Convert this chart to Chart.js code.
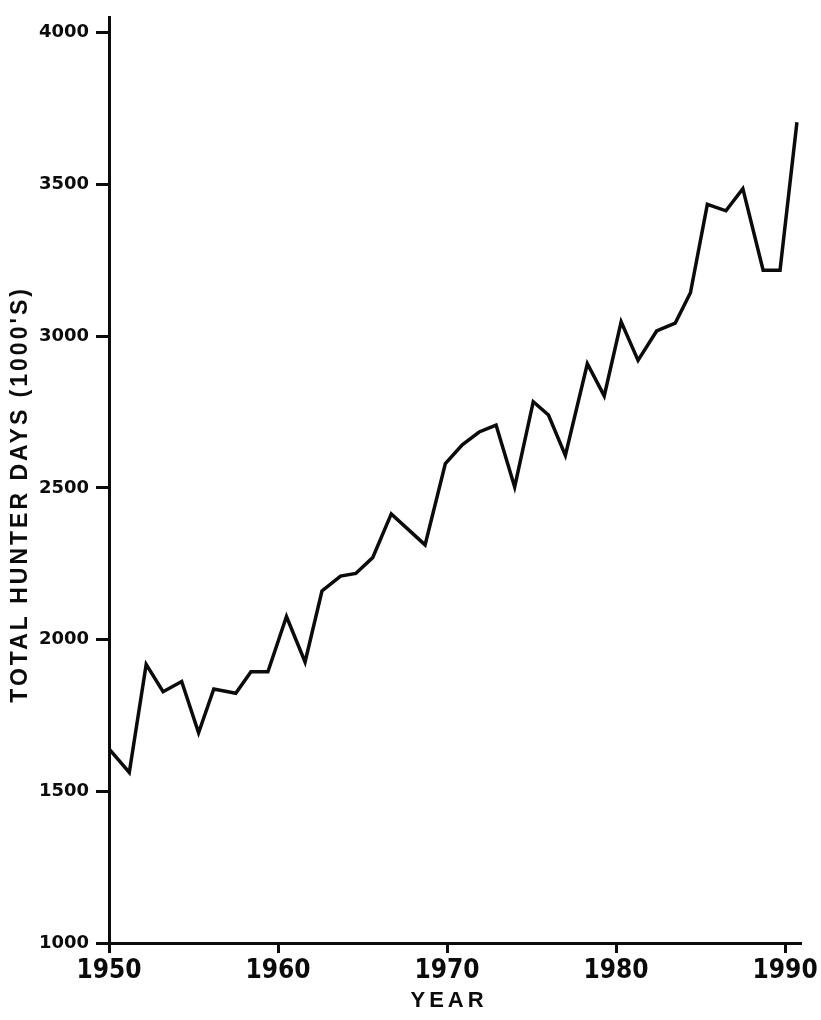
<!DOCTYPE html>
<html>
<head>
<meta charset="utf-8">
<title>Total hunter days, 1950–1990</title>
<script src="https://cdn.jsdelivr.net/npm/chart.js@4/dist/chart.umd.min.js"></script>
<style>
  html, body { margin: 0; padding: 0; background: #ffffff; }
  #wrap { width: 821px; height: 1020px; }
</style>
</head>
<body>
<div id="wrap"><canvas id="chart" width="821" height="1020"></canvas></div>
<script>
// Season year of each plotted point (positions along the year axis)
const years = [
  1950.0, 1951.2, 1952.2, 1953.2, 1954.3, 1955.3, 1956.2, 1957.5, 1958.4, 1959.4,
  1960.5, 1961.6, 1962.6, 1963.7, 1964.6, 1965.6, 1966.7, 1968.7, 1969.9,
  1970.9, 1971.9, 1972.9, 1974.0, 1975.1, 1976.0, 1977.0, 1978.3, 1979.3,
  1980.3, 1981.3, 1982.4, 1983.5, 1984.4, 1985.4, 1986.5, 1987.5, 1988.7,
  1989.7, 1990.7
];

// Total hunter days, in thousands
const hunterDays = [
  1640, 1562, 1918, 1828, 1862, 1693, 1837, 1823, 1894, 1894,
  2076, 1926, 2160, 2209, 2218, 2270, 2414, 2312, 2580,
  2642, 2684, 2707, 2503, 2784, 2740, 2607, 2909, 2803,
  3047, 2920, 3017, 3043, 3143, 3434, 3413, 3486, 3217,
  3217, 3705
];

// Axis tick labels
const yearTicks = [1950, 1960, 1970, 1980, 1990];
const dayTicks = [1000, 1500, 2000, 2500, 3000, 3500, 4000];

const yTitle = "TOTAL HUNTER DAYS (1000'S)";
const xTitle = "YEAR";

const INK = '#0b0b0b';

// Letter-spaced axis titles drawn on top of the chart
const axisTitles = {
  id: 'axisTitles',
  afterDraw(chart) {
    const { ctx, chartArea, scales } = chart;
    ctx.save();
    ctx.fillStyle = INK;
    ctx.textAlign = 'center';
    ctx.textBaseline = 'middle';

    // vertical title
    ctx.font = "bold 23px 'Liberation Sans', Arial, sans-serif";
    ctx.letterSpacing = '3px';
    ctx.translate(21, (chartArea.top + chartArea.bottom) / 2 + 14);
    ctx.rotate(-Math.PI / 2);
    ctx.fillText(yTitle, 0, 0);
    ctx.setTransform(1, 0, 0, 1, 0, 0);

    // horizontal title
    ctx.font = "bold 22px 'Liberation Sans', Arial, sans-serif";
    ctx.letterSpacing = '4px';
    ctx.fillText(xTitle, scales.x.getPixelForValue(1970) + 2, 1001);
    ctx.restore();
  }
};

new Chart(document.getElementById('chart'), {
  type: 'line',
  data: {
    datasets: [{
      data: years.map((x, i) => ({ x, y: hunterDays[i] })),
      borderColor: INK,
      borderWidth: 3.5,
      borderJoinStyle: 'miter',
      borderCapStyle: 'butt',
      pointRadius: 0,
      tension: 0,
      fill: false
    }]
  },
  options: {
    responsive: false,
    animation: false,
    devicePixelRatio: 1,
    layout: { padding: { top: 10, right: 15, left: 0, bottom: 0 } },
    plugins: {
      legend: { display: false },
      tooltip: { enabled: false }
    },
    scales: {
      x: {
        type: 'linear',
        min: 1950,
        max: 1990.95,
        afterBuildTicks: (s) => { s.ticks = yearTicks.map(v => ({ value: v })); },
        afterFit: (s) => { s.height = 77; },
        border: { display: true, color: INK, width: 3 },
        grid: { drawOnChartArea: false, drawTicks: true, tickLength: 10, tickWidth: 3, color: INK },
        ticks: {
          autoSkip: false,
          maxRotation: 0,
          padding: 3,
          color: INK,
          font: { family: "'Liberation Sans Narrow', 'DejaVu Sans Condensed', sans-serif", weight: 'bold', size: 26 },
          callback: (v) => String(v)
        }
      },
      y: {
        type: 'linear',
        min: 1000,
        max: 4049,
        afterBuildTicks: (s) => { s.ticks = dayTicks.map(v => ({ value: v })); },
        afterFit: (s) => { s.width = 109; },
        border: { display: true, color: INK, width: 3 },
        grid: { drawOnChartArea: false, drawTicks: true, tickLength: 13, tickWidth: 3, color: INK },
        ticks: {
          autoSkip: false,
          padding: 7,
          color: INK,
          font: { family: "'DejaVu Sans', sans-serif", weight: 'bold', size: 18 },
          callback: (v) => String(v)
        }
      }
    }
  },
  plugins: [axisTitles]
});
</script>
</body>
</html>
